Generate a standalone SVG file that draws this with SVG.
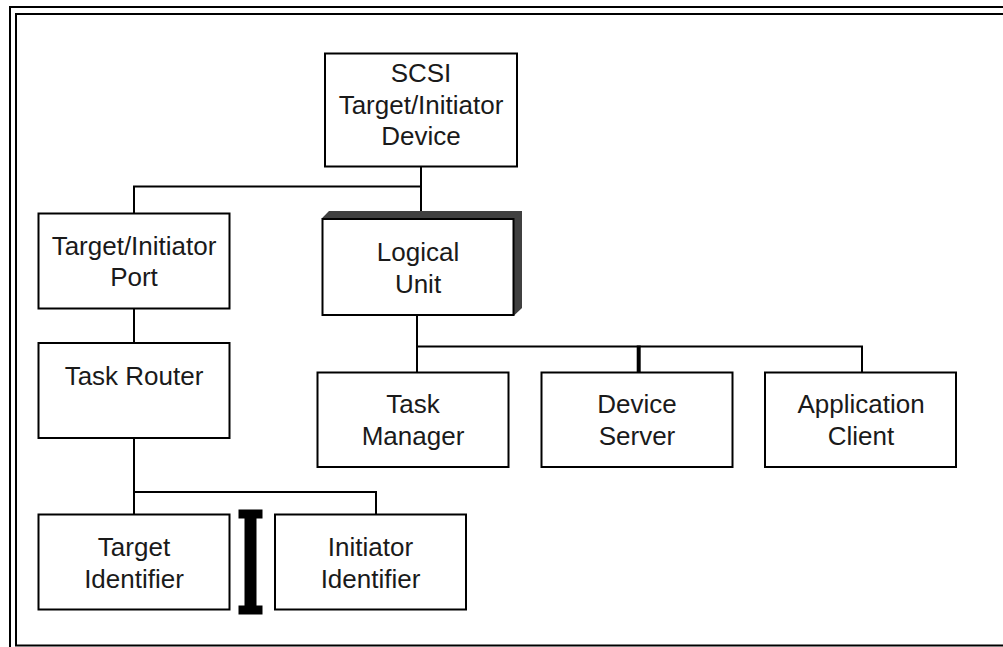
<svg xmlns="http://www.w3.org/2000/svg" width="1003" height="647" viewBox="0 0 1003 647">
  <style>
    .box { fill: #ffffff; stroke: #000000; stroke-width: 2; }
    .lbl { font-family: "Liberation Sans", Arial, sans-serif; font-size: 26px; fill: #1a1a1a; text-anchor: middle; }
    .wire { fill: none; stroke: #000000; stroke-width: 2; }
    .wire.heavy { stroke-width: 4; }
    .frame { fill: none; stroke: #000000; stroke-width: 2; }
  </style>
  <rect width="1003" height="647" fill="#ffffff"/>

  <!-- double page frame -->
  <g id="frame">
    <path class="frame" d="M10,647 V7 H1003"/>
    <path class="frame" d="M1003,14 H16 V645.5 H1003"/>
  </g>

  <!-- connectors -->
  <g id="connectors">
    <path class="wire" d="M421,166.5 V211"/>
    <path class="wire" d="M134,213.5 V186.5 H421"/>
    <path class="wire" d="M134,308.5 V343"/>
    <path class="wire" d="M134,438 V514.5"/>
    <path class="wire" d="M134,492 H376 V514.5"/>
    <path class="wire" d="M417,315 V372.5"/>
    <path class="wire" d="M417,346.5 H862 V372.5"/>
    <path class="wire heavy" d="M638.7,345.5 V372.5"/>
  </g>

  <g id="scsi-device">
    <rect class="box" x="325" y="53.5" width="192" height="113"/>
    <text class="lbl" x="421" y="82">SCSI</text>
    <text class="lbl" x="421" y="113.5">Target/Initiator</text>
    <text class="lbl" x="421" y="144.5">Device</text>
  </g>

  <g id="port">
    <rect class="box" x="38.5" y="213.5" width="191" height="95"/>
    <text class="lbl" x="134" y="254.5">Target/Initiator</text>
    <text class="lbl" x="134" y="286">Port</text>
  </g>

  <g id="task-router">
    <rect class="box" x="38.5" y="343" width="191" height="95"/>
    <text class="lbl" x="134" y="384.5">Task Router</text>
  </g>

  <g id="target-identifier">
    <rect class="box" x="38.5" y="514.5" width="191" height="95"/>
    <text class="lbl" x="134" y="556">Target</text>
    <text class="lbl" x="134" y="588">Identifier</text>
  </g>

  <!-- exclusive-or bar between the two identifiers -->
  <g id="either-bar" fill="#000000">
    <rect x="238.5" y="509.5" width="24" height="9"/>
    <rect x="244.5" y="518" width="12" height="88"/>
    <rect x="238.5" y="605.5" width="24" height="9"/>
  </g>

  <g id="initiator-identifier">
    <rect class="box" x="275" y="514.5" width="191" height="95"/>
    <text class="lbl" x="370.5" y="556">Initiator</text>
    <text class="lbl" x="370.5" y="588">Identifier</text>
  </g>

  <g id="logical-unit">
    <polygon points="321.7,218.5 329,211 522,211 522,308 514,315.5" fill="#404040"/>
    <rect class="box" x="322.5" y="219" width="191" height="96"/>
    <text class="lbl" x="418" y="261">Logical</text>
    <text class="lbl" x="418" y="293">Unit</text>
  </g>

  <g id="task-manager">
    <rect class="box" x="317.5" y="372.5" width="191" height="94.5"/>
    <text class="lbl" x="413" y="413">Task</text>
    <text class="lbl" x="413" y="444.5">Manager</text>
  </g>

  <g id="device-server">
    <rect class="box" x="541.5" y="372.5" width="191" height="94.5"/>
    <text class="lbl" x="637" y="413">Device</text>
    <text class="lbl" x="637" y="444.5">Server</text>
  </g>

  <g id="application-client">
    <rect class="box" x="765" y="372.5" width="191" height="94.5"/>
    <text class="lbl" x="861" y="413">Application</text>
    <text class="lbl" x="861" y="444.5">Client</text>
  </g>
</svg>
